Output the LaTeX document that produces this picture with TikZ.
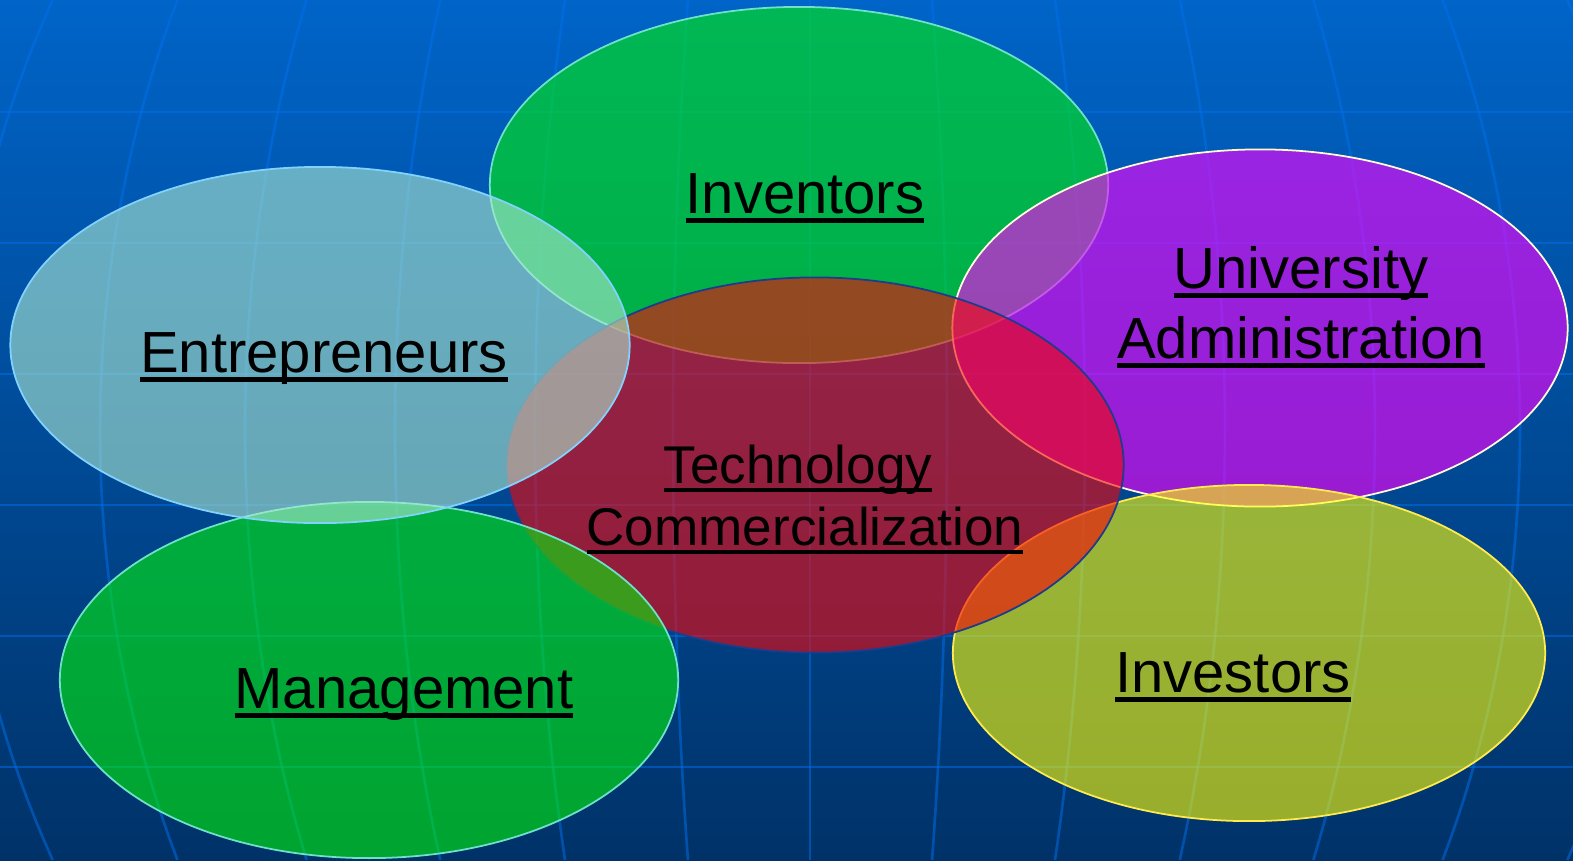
\documentclass[tikz,border=0pt]{standalone}
\usepackage{fontspec}
\setmainfont{Liberation Sans}
\usetikzlibrary{shapes.geometric}

\definecolor{bgtop}{RGB}{0,100,200}
\definecolor{bgbot}{RGB}{0,50,104}
\definecolor{globeblue}{RGB}{0,112,238}
\definecolor{greenfill}{RGB}{0,240,10}
\definecolor{entfill}{RGB}{173,232,208}
\definecolor{techfill}{RGB}{245,5,8}
\definecolor{univfill}{RGB}{255,0,255}
\definecolor{invsfill}{RGB}{255,255,0}
\definecolor{greenline}{RGB}{110,225,200}
\definecolor{entline}{RGB}{130,210,255}
\definecolor{techline}{RGB}{30,60,140}
\definecolor{univline}{RGB}{255,250,220}
\definecolor{invsline}{RGB}{255,235,80}

% underline that runs through the descenders
\newcommand{\lined}[1]{\setbox0=\hbox{#1}\rlap{\rule[-0.17em]{\wd0}{0.08em}}\box0}

\tikzset{
  blob/.style={ellipse, inner sep=0pt, line width=0.5pt, fill opacity=0.6},
  word/.style={anchor=base, inner sep=0pt, font=\fontsize{16.5pt}{20pt}\selectfont},
  smallword/.style={anchor=base, inner sep=0pt, font=\fontsize{15.1pt}{18pt}\selectfont},
  globeline/.style={line width=0.75pt, draw=globeblue, draw opacity=0.5}
}

\begin{document}
\begin{tikzpicture}[x=0.01cm, y=-0.01cm]
\useasboundingbox (0,0) rectangle (1573,860);
\shade[top color=bgtop, bottom color=bgbot] (0,0) rectangle (1573,860);

% globe behind everything
\foreach \yy in {112,243,374,505,636,767}
  \draw[globeline] (0,\yy) -- (1573,\yy);
\draw[globeline] (810,0) -- (810,860);
\foreach \m in {137,275,415,565,710,850} {
  \draw[globeline] plot[domain=-27:27, samples=40] ({810+\m*cos(\x)}, {430+947*sin(\x)});
  \draw[globeline] plot[domain=-27:27, samples=40] ({810-\m*cos(\x)}, {430+947*sin(\x)});
}

% the six groups
\node[blob, fill=greenfill, draw=greenline, minimum width=6.18cm, minimum height=3.56cm] (inv) at (799,185) {};
\node[blob, fill=univfill, draw=univline, minimum width=6.15cm, minimum height=3.57cm] (univ) at (1260,328) {};
\node[blob, fill=invsfill, draw=invsline, minimum width=5.92cm, minimum height=3.36cm] (invs) at (1249,653) {};
\node[blob, fill=techfill, draw=techline, minimum width=6.17cm, minimum height=3.75cm] (tech) at (815,465) {};
\node[blob, fill=greenfill, draw=greenline, minimum width=6.18cm, minimum height=3.56cm] (mgmt) at (369,680) {};
\node[blob, fill=entfill, draw=entline, minimum width=6.19cm, minimum height=3.56cm] (ent) at (320,345) {};

% labels
\node[word] (invtxt) at (805,213) {\lined{Inventors}};
\node[word] (enttxt) at (324,372) {\lined{Entrepreneurs}};
\node[word] (univtxt) at (1301,288) {\lined{University}};
\node[word] (admtxt) at (1301,358) {\lined{Administration}};
\node[smallword] (techtxt) at (798,483) {\lined{Technology}};
\node[smallword] (commtxt) at (805,545) {\lined{Commercialization}};
\node[word] (mgmttxt) at (404,708) {\lined{Management}};
\node[word] (invstxt) at (1233,692) {\lined{Investors}};
\end{tikzpicture}
\end{document}
